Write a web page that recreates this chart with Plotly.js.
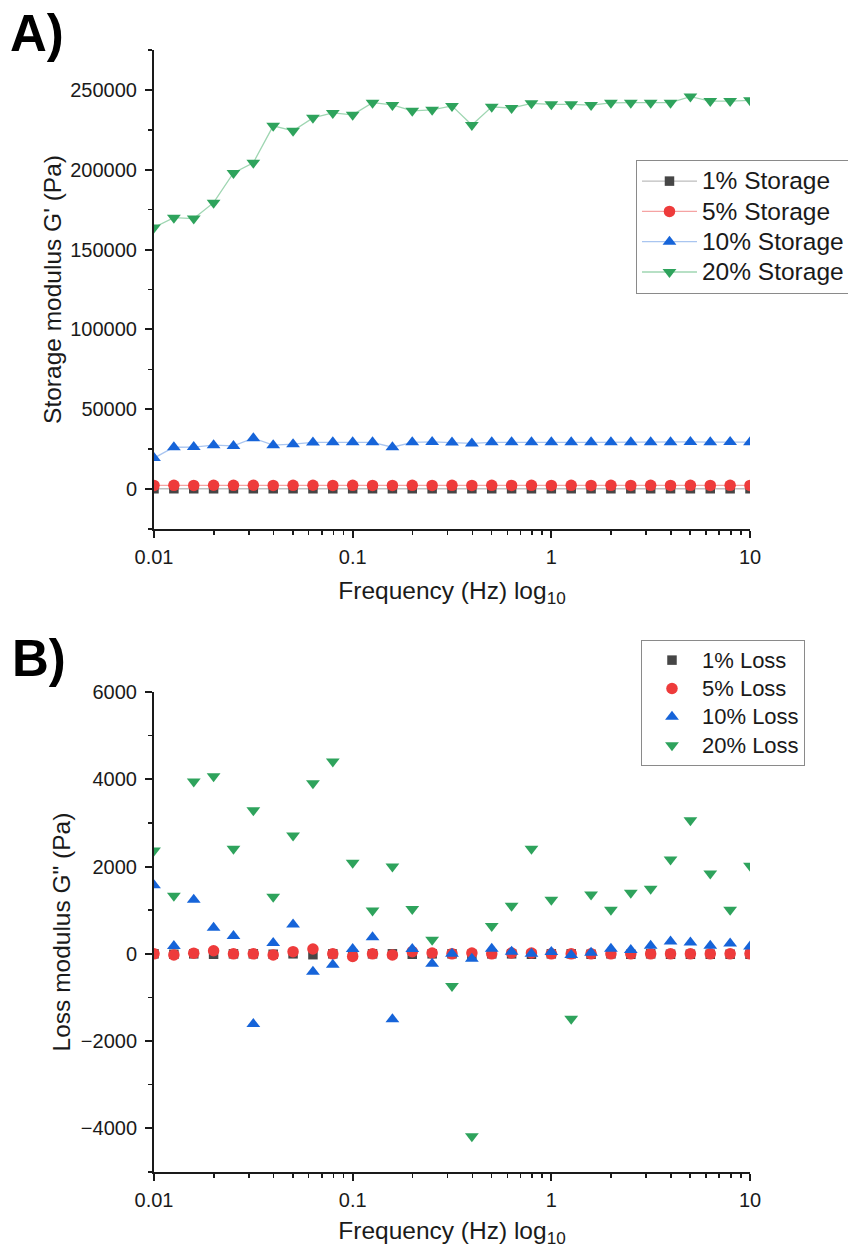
<!DOCTYPE html>
<html>
<head>
<meta charset="utf-8">
<script src="https://cdn.plot.ly/plotly-3.0.1.min.js"></script>
<style>html,body{margin:0;padding:0;background:#fff}#chart{width:848px;height:1248px}</style>
</head>
<body>
<div id="chart"></div>
<script>
// ---------------- data ----------------
const freq = [0.01, 0.01259, 0.01585, 0.01995, 0.02512, 0.03162, 0.03981, 0.05012, 0.0631, 0.07943,
              0.1, 0.1259, 0.1585, 0.1995, 0.2512, 0.3162, 0.3981, 0.5012, 0.631, 0.7943,
              1, 1.259, 1.585, 1.995, 2.512, 3.162, 3.981, 5.012, 6.31, 7.943, 10];

const storage1  = [200, 210, 200, 190, 210, 200, 200, 210, 200, 190, 200, 210, 200, 200, 190, 200,
                   210, 200, 200, 190, 200, 210, 200, 200, 190, 200, 210, 200, 200, 190, 200];
const storage5  = [2300, 2350, 2300, 2400, 2350, 2400, 2300, 2350, 2400, 2300, 2350, 2300, 2300, 2350, 2300, 2350,
                   2300, 2350, 2300, 2350, 2300, 2350, 2300, 2350, 2300, 2350, 2300, 2350, 2300, 2350, 2300];
const storage10 = [19400, 26200, 26300, 27500, 27000, 31900, 27500, 28100, 29200, 29300, 29400, 29300, 26200, 29300, 29500, 29200,
                   28600, 29300, 29400, 29300, 29400, 29300, 29300, 29400, 29400, 29400, 29400, 29500, 29400, 29500, 29400];
const storage20 = [163800, 170000, 169400, 179400, 198000, 204400, 227500, 224400, 232500, 235600, 234400, 242000, 240600, 236900, 237500, 240000,
                   228000, 239400, 238600, 241600, 241000, 241000, 240500, 241900, 242000, 242000, 242000, 245800, 243000, 243000, 243500];

const loss1  = [0, -10, 0, -10, 0, 0, -10, 0, -20, 0, -10, 0, 0, -10, 0, 0,
                -10, 0, 0, -10, 0, 0, -10, 0, -10, 0, -10, -10, -10, -10, -10];
const loss5  = [0, -25, 15, 70, 0, 0, -25, 50, 110, 0, -60, 0, -25, 50, 20, 0,
                20, 0, 20, 20, 0, 0, 0, 0, 0, 0, 0, 0, 0, 0, 0];
const loss10 = [1570, 180, 1240, 600, 410, -1610, 250, 670, -410, -250, 110, 380, -1500, 110, -230, 0,
                -115, 115, 50, 0, 40, -25, 25, 115, 90, 185, 285, 260, 185, 235, 165];
const loss20 = [2370, 1330, 3950, 4070, 2410, 3290, 1310, 2710, 3910, 4410, 2090, 990, 2000, 1030, 320, -740,
                -4180, 640, 1100, 2410, 1240, -1490, 1360, 1010, 1400, 1490, 2160, 3060, 1840, 1010, 2020];

const seriesNames = ['1%', '5%', '10%', '20%'];
const xTickVals = [0.01, 0.1, 1, 10];
const xTickText = ['0.01', '0.1', '1', '10'];

// ---------------- style ----------------
const FONT = 'Liberation Sans, Arial, Helvetica, sans-serif';
const INK = '#1a1a1a';
const markerColors = ['#464646', '#ee3b3b', '#1664d9', '#2ea35c'];
const lineColors   = ['#bdbdbd', '#f5a3a3', '#a9c5f0', '#9fd6b2'];
const symbols = ['square', 'circle', 'triangle-up', 'triangle-down'];
const sizes = [9.5, 11.5, 12, 12];

const storageSeries = [storage1, storage5, storage10, storage20];
const lossSeries = [loss1, loss5, loss10, loss20];

function legendLabel(txt, px) {
  return '<span style="font-size:' + px + 'px">' + txt + '</span>';
}

const traces = [];
storageSeries.forEach((ys, i) => {
  traces.push({
    x: freq, y: ys, type: 'scatter', mode: 'lines+markers',
    name: legendLabel(seriesNames[i] + ' Storage', 24.5), xaxis: 'x', yaxis: 'y', legend: 'legend',
    line: {color: lineColors[i], width: 1.3},
    marker: {symbol: symbols[i], size: sizes[i], color: markerColors[i]}
  });
});
lossSeries.forEach((ys, i) => {
  traces.push({
    x: freq, y: ys, type: 'scatter', mode: 'markers',
    name: legendLabel(seriesNames[i] + ' Loss', 22), xaxis: 'x2', yaxis: 'y2', legend: 'legend2',
    marker: {symbol: symbols[i], size: sizes[i], color: markerColors[i]}
  });
});

const minorX = [];
[0.01, 0.1, 1].forEach(d => { for (let k = 2; k <= 9; k++) minorX.push(d * k); });

const axisBase = {
  showline: true, linecolor: INK, linewidth: 2,
  ticks: 'outside', ticklen: 7, tickwidth: 2, tickcolor: INK,
  showgrid: false, zeroline: false, automargin: false,
  tickfont: {family: FONT, size: 20, color: INK}
};

function xAxis(anchor) {
  return Object.assign({}, axisBase, {
    type: 'log', range: [-2, 1], anchor: anchor, domain: [0, 1],
    tickmode: 'array', tickvals: xTickVals, ticktext: xTickText,
    ticklabelstandoff: 2,
    minor: {tickmode: 'array', tickvals: minorX, ticks: 'outside', ticklen: 4, tickwidth: 1.5, tickcolor: INK},
    title: {text: 'Frequency (Hz) log<sub>10</sub>', font: {family: FONT, size: 24.5, color: INK}, standoff: 15}
  });
}

const layout = {
  width: 848, height: 1248, autosize: false,
  margin: {l: 154, r: 98, t: 50, b: 76, autoexpand: false},
  paper_bgcolor: '#fff', plot_bgcolor: '#fff',
  font: {family: FONT, color: INK},
  showlegend: true,
  xaxis: xAxis('y'),
  xaxis2: xAxis('y2'),
  yaxis: Object.assign({}, axisBase, {
    domain: [0.5731, 1], anchor: 'x', range: [-25000, 275000],
    tickmode: 'linear', tick0: 0, dtick: 50000, tickformat: 'd', ticklabelstandoff: 4,
    minor: {tick0: 0, dtick: 25000, ticks: 'outside', ticklen: 4, tickwidth: 1.5, tickcolor: INK},
    title: {text: "Storage modulus G' (Pa)", font: {family: FONT, size: 24.5, color: INK}, standoff: 2}
  }),
  yaxis2: Object.assign({}, axisBase, {
    domain: [0, 0.4278], anchor: 'x2', range: [-5000, 6000],
    tickmode: 'linear', tick0: 0, dtick: 2000, tickformat: 'd', ticklabelstandoff: 4,
    minor: {tick0: 0, dtick: 1000, ticks: 'outside', ticklen: 4, tickwidth: 1.5, tickcolor: INK},
    title: {text: 'Loss modulus G" (Pa)', font: {family: FONT, size: 24.5, color: INK}, standoff: 3}
  }),
  legend: {
    x: 0.8087, y: 0.9020, xanchor: 'left', yanchor: 'top',
    bordercolor: '#8a8a8a', borderwidth: 1, bgcolor: '#fff',
    font: {family: FONT, size: 21, color: INK}, itemwidth: 55, tracegroupgap: 0
  },
  legend2: {
    x: 0.8171, y: 0.4742, xanchor: 'left', yanchor: 'top',
    bordercolor: '#8a8a8a', borderwidth: 1, bgcolor: '#fff',
    font: {family: FONT, size: 19.5, color: INK}, itemwidth: 50, tracegroupgap: 0
  },
  annotations: [
    {text: '<b>A)</b>', xref: 'paper', yref: 'paper', x: -0.245, y: 1.042, xanchor: 'left', yanchor: 'top',
     showarrow: false, font: {family: FONT, size: 51, color: '#000'}},
    {text: '<b>B)</b>', xref: 'paper', yref: 'paper', x: -0.2416, y: 0.4848, xanchor: 'left', yanchor: 'top',
     showarrow: false, font: {family: FONT, size: 51, color: '#000'}}
  ]
};

Plotly.newPlot('chart', traces, layout, {displayModeBar: false, staticPlot: true});
</script>
</body>
</html>
